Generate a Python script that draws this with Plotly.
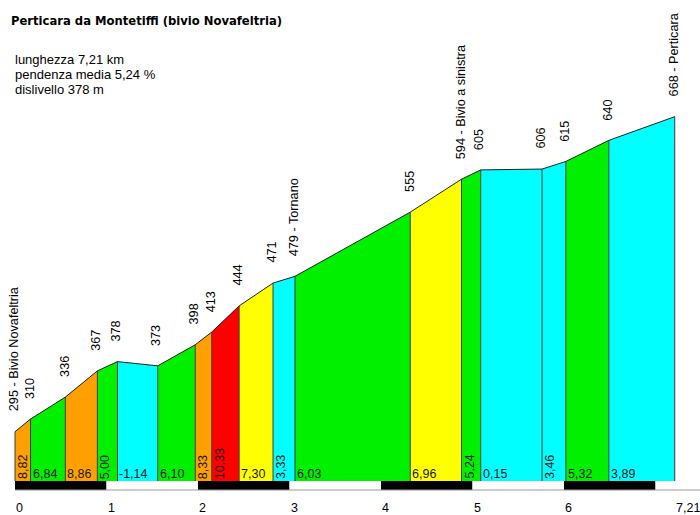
import plotly.graph_objects as go

# ---------------- data ----------------
KM = [0, 0.17, 0.55, 0.90, 1.12, 1.56, 1.97, 2.15, 2.45, 2.82, 3.06,
      4.32, 4.88, 5.09, 5.76, 6.02, 6.49, 7.21]
ELEV = [295, 310, 336, 367, 378, 373, 398, 413, 444, 471, 479,
        555, 594, 605, 606, 615, 640, 668]
NAMES = ["Bivio Novafeltria", "", "", "", "", "", "", "", "", "", "Tornano",
         "", "Bivio a sinistra", "", "", "", "", "Perticara"]
GRADIENT = [8.82, 6.84, 8.86, 5.00, -1.14, 6.10, 8.33, 10.33, 7.30, 3.33,
            6.03, 6.96, 5.24, 0.15, 3.46, 5.32, 3.89]
TICK_KM = [0, 1, 2, 3, 4, 5, 6, 7.21]
TICK_LABELS = ["0", "1", "2", "3", "4", "5", "6", "7,21"]
TITLE = "Perticara da Montetiffi (bivio Novafeltria)"
INFO = ["lunghezza 7,21 km", "pendenza media 5,24 %", "dislivello 378 m"]

# ---------------- layout calibration (pixels) ----------------
W, H = 700, 515
X0_PX = 15.0
PX_PER_KM = 91.5
E_REF, E_REF_PX = 295, 431.7
PX_PER_M = 0.8445
BASE_PX = 481
BAR_BOTTOM_PX = 490
FONT = "Liberation Sans, Arial, sans-serif"


def y_of_px(p):
    return E_REF - (p - E_REF_PX) / PX_PER_M


XR = [(0 - X0_PX) / PX_PER_KM, (W - X0_PX) / PX_PER_KM]
YR = [y_of_px(H), y_of_px(0)]
BASE = y_of_px(BASE_PX)
BAR_BOT = y_of_px(BAR_BOTTOM_PX)


def grad_color(g):
    if g < 5:
        return "#00FFFF"
    if g < 6.9:
        return "#00F000"
    if g < 8:
        return "#FFFF00"
    if g < 10:
        return "#FFA000"
    return "#FF0000"


fig = go.Figure()

# segment fills
for i, g in enumerate(GRADIENT):
    x0, x1 = KM[i], KM[i + 1]
    e0, e1 = ELEV[i], ELEV[i + 1]
    fig.add_trace(go.Scatter(
        x=[x0, x0, x1, x1, x0], y=[BASE, e0, e1, BASE, BASE],
        mode="lines", fill="toself", fillcolor=grad_color(g),
        line=dict(width=0), hoverinfo="skip", showlegend=False))

# vertical separators
vx, vy = [], []
for k, e in zip(KM, ELEV):
    vx += [k, k, None]
    vy += [BASE, e, None]
fig.add_trace(go.Scatter(x=vx, y=vy, mode="lines",
                         line=dict(color="#3a3a3a", width=1),
                         hoverinfo="skip", showlegend=False))
# profile line
fig.add_trace(go.Scatter(x=KM, y=ELEV, mode="lines",
                         line=dict(color="#202020", width=1),
                         hoverinfo="skip", showlegend=False))

shapes = []
# scale bar
km_end = XR[1]
k = 0
while k < km_end:
    shapes.append(dict(type="rect", xref="x", yref="y", x0=k, x1=min(k + 1, km_end),
                       y0=BAR_BOT, y1=BASE,
                       fillcolor="#000000" if k % 2 == 0 else "#FFFFFF",
                       line=dict(width=0), layer="above"))
    k += 1
shapes.append(dict(type="line", xref="x", yref="y", x0=0, x1=km_end,
                   y0=BAR_BOT, y1=BAR_BOT, line=dict(color="#9a9a9a", width=1)))

annotations = []
# elevation labels
for k, e, n in zip(KM, ELEV, NAMES):
    txt = f"{e}" + (f" - {n}" if n else "")
    annotations.append(dict(x=k, y=e, xref="x", yref="y", text=txt, showarrow=False,
                            textangle=-90, xanchor="center", yanchor="bottom",
                            xshift=-1, yshift=18,
                            font=dict(family=FONT, size=12.7, color="#000000")))
# gradient labels
for i, g in enumerate(GRADIENT):
    txt = f"{g:.2f}".replace(".", ",")
    width = KM[i + 1] - KM[i]
    if width < 0.32:
        annotations.append(dict(x=KM[i], y=BASE, xref="x", yref="y", text=txt,
                                showarrow=False, textangle=-90, xanchor="left",
                                yanchor="bottom", xshift=-1, yshift=0,
                                font=dict(family=FONT, size=12.5, color="#1a1a1a")))
    else:
        annotations.append(dict(x=KM[i], y=BASE, xref="x", yref="y", text=txt,
                                showarrow=False, xanchor="left", yanchor="bottom",
                                xshift=0, yshift=-2,
                                font=dict(family=FONT, size=12.5, color="#1a1a1a")))
# km tick labels
for k, t in zip(TICK_KM, TICK_LABELS):
    annotations.append(dict(x=k, y=y_of_px(508), xref="x", yref="y", text=t,
                            showarrow=False, xanchor="left", yanchor="middle",
                            xshift=-1,
                            font=dict(family=FONT, size=12.5, color="#000000")))
# title
annotations.append(dict(x=9 / W, y=1 - 27 / H, xref="paper", yref="paper",
                        text=f"<b>{TITLE}</b>", showarrow=False,
                        xanchor="left", yanchor="bottom", yshift=-3,
                        font=dict(family="DejaVu Sans, Verdana, sans-serif", size=11.6,
                                  color="#000000")))
# info text
for j, line in enumerate(INFO):
    annotations.append(dict(x=13 / W, y=1 - (60 + 14.5 * j) / H, xref="paper",
                            yref="paper", text=line, showarrow=False,
                            xanchor="left", yanchor="middle",
                            font=dict(family=FONT, size=13, color="#000000")))

fig.update_layout(
    width=W, height=H, margin=dict(l=0, r=0, t=0, b=0),
    paper_bgcolor="white", plot_bgcolor="white",
    xaxis=dict(range=XR, visible=False, fixedrange=True),
    yaxis=dict(range=YR, visible=False, fixedrange=True),
    shapes=shapes, annotations=annotations, showlegend=False)

fig.write_html("out.html")
